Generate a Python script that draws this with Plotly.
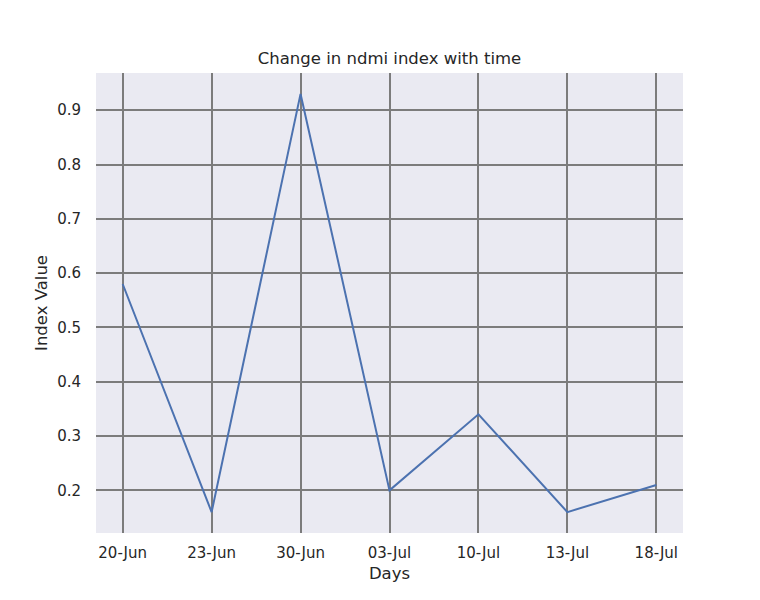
import plotly.graph_objects as go

days = ["20-Jun", "23-Jun", "30-Jun", "03-Jul", "10-Jul", "13-Jul", "18-Jul"]
ndmi = [0.58, 0.16, 0.93, 0.20, 0.34, 0.16, 0.21]
y_ticks = [0.2, 0.3, 0.4, 0.5, 0.6, 0.7, 0.8, 0.9]

font = "DejaVu Sans"
text_color = "#262626"
grid_color = "#7c7c7c"

# page body has an 8px margin, so the figure is made a bit smaller
W, H = 752, 592

fig = go.Figure()
fig.add_trace(go.Scatter(
    x=days,
    y=ndmi,
    mode="lines",
    line=dict(color="#4C72B0", width=2),
    showlegend=False
))

fig.update_layout(
    width=W,
    height=H,
    margin=dict(l=88, r=77, t=65, b=67),
    paper_bgcolor="white",
    plot_bgcolor="#EAEAF2",
    font=dict(family=font, color=text_color, size=15),
    title=dict(
        text="Change in ndmi index with time",
        x=381.5 / W,
        xanchor="center",
        y=1 - 50 / H,
        yanchor="middle",
        font=dict(family=font, size=16.5, color=text_color)
    )
)

fig.update_xaxes(
    type="category",
    range=[-0.3, 6.3],
    showgrid=True,
    gridcolor=grid_color,
    gridwidth=1.7,
    zeroline=False,
    showline=False,
    ticks="outside",
    ticklen=6,
    tickcolor="rgba(0,0,0,0)",
    tickfont=dict(size=15),
    title=dict(text="Days", font=dict(size=16.5), standoff=6)
)
fig.update_yaxes(
    range=[0.1215, 0.9685],
    tickvals=y_ticks,
    ticktext=[f"{v:.1f}" for v in y_ticks],
    showgrid=True,
    gridcolor=grid_color,
    gridwidth=1.7,
    zeroline=False,
    showline=False,
    ticks="outside",
    ticklen=11,
    tickcolor="rgba(0,0,0,0)",
    tickfont=dict(size=15),
    title=dict(text="Index Value", font=dict(size=16.5), standoff=5)
)

fig.write_html("out.html")
